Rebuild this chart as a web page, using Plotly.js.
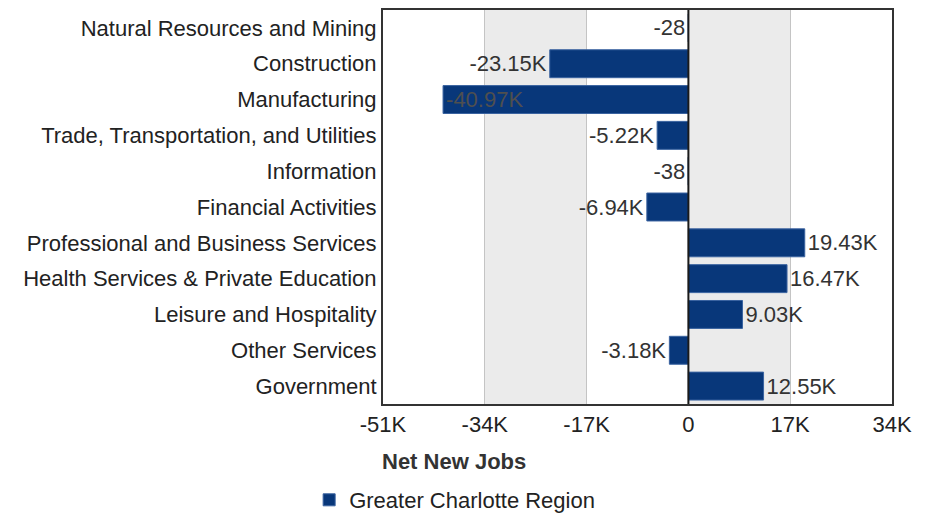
<!DOCTYPE html>
<html>
<head>
<meta charset="utf-8">
<script src="https://cdn.plot.ly/plotly-3.0.1.min.js"></script>
<style>
  html, body { margin: 0; padding: 0; background: #fff; }
  #chart { width: 934px; height: 513px; }
</style>
</head>
<body>
<div id="chart"></div>
<script>
// Industry sectors, top to bottom
let sectors = [
  "Natural Resources and Mining",
  "Construction",
  "Manufacturing",
  "Trade, Transportation, and Utilities",
  "Information",
  "Financial Activities",
  "Professional and Business Services",
  "Health Services & Private Education",
  "Leisure and Hospitality",
  "Other Services",
  "Government"
];

// Net new jobs per sector
let netJobs = [-28, -23150, -40970, -5220, -38, -6940, 19430, 16470, 9030, -3180, 12550];
let jobLabels = ["-28", "-23.15K", "-40.97K", "-5.22K", "-38", "-6.94K", "19.43K", "16.47K", "9.03K", "-3.18K", "12.55K"];

// Axis ticks
let tickValues = [-51000, -34000, -17000, 0, 17000, 34000];
let tickLabels = ["-51K", "-34K", "-17K", "0", "17K", "34K"];

// Label goes inside the bar when it would run off the left edge
let labelPos = netJobs.map(v => v < -34000 ? 'inside' : 'outside');

let data = [{
  type: 'bar',
  orientation: 'h',
  y: sectors,
  x: netJobs,
  name: 'Greater Charlotte Region',
  text: jobLabels,
  textposition: labelPos,
  textfont: { size: 22, color: '#333' },
  insidetextfont: { size: 22, color: '#4f4f4f' },
  outsidetextfont: { size: 22, color: '#333' },
  constraintext: 'none',
  cliponaxis: false,
  hoverinfo: 'none',
  marker: { color: '#08377a', line: { color: '#3a63a0', width: 1 } }
}];

// Alternating grey bands behind the bars, zero line on top
let shapes = [[-34000, -17000], [0, 17000]].map(b => ({
  type: 'rect', xref: 'x', yref: 'paper',
  x0: b[0], x1: b[1], y0: 0, y1: 1,
  fillcolor: '#ebebeb', line: { width: 0 }, layer: 'below'
}));
shapes.push({
  type: 'line', xref: 'x', yref: 'paper',
  x0: 0, x1: 0, y0: 0, y1: 1,
  line: { color: '#1a1a1a', width: 2 }, layer: 'above'
});

let layout = {
  width: 934,
  height: 513,
  margin: { l: 383, r: 42, t: 10, b: 109 },
  paper_bgcolor: '#fff',
  plot_bgcolor: '#fff',
  font: { family: 'Liberation Sans, Arial, sans-serif', color: '#222' },
  bargap: 0.22,
  shapes: shapes,
  xaxis: {
    range: [-51000, 34000],
    tickvals: tickValues,
    ticktext: tickLabels,
    tickfont: { size: 22, color: '#222' },
    showgrid: true,
    gridcolor: '#c4c4c4',
    gridwidth: 1,
    zeroline: false,
    showline: true,
    mirror: true,
    linecolor: '#333',
    linewidth: 2,
    ticks: '',
    fixedrange: true
  },
  yaxis: {
    autorange: 'reversed',
    tickfont: { size: 22, color: '#222' },
    ticks: '',
    ticklen: 0,
    showline: true,
    mirror: true,
    linecolor: '#333',
    linewidth: 2,
    fixedrange: true
  },
  annotations: [{
    text: '<b>Net New Jobs</b>',
    xref: 'paper', yref: 'paper',
    x: 0.1395, y: -0.147,
    xanchor: 'center', yanchor: 'middle',
    showarrow: false,
    font: { size: 22, color: '#333' }
  }],
  showlegend: true,
  legend: {
    orientation: 'h',
    xref: 'container', yref: 'container',
    x: 0.331, y: 0.0253,
    xanchor: 'left', yanchor: 'middle',
    font: { size: 22, color: '#222' },
    bgcolor: 'rgba(0,0,0,0)'
  }
};

Plotly.newPlot('chart', data, layout, { displayModeBar: false, staticPlot: true });
</script>
</body>
</html>
